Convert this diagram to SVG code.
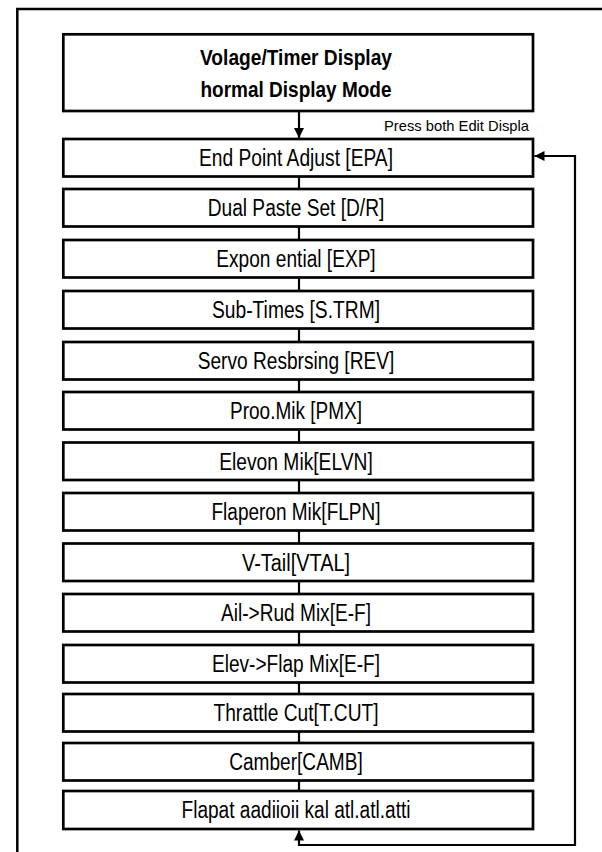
<svg xmlns="http://www.w3.org/2000/svg" width="602" height="852" viewBox="0 0 602 852">
<style>
.frame{fill:none;stroke:#000;stroke-width:2.5}
.box{fill:#fff;stroke:#000;stroke-width:2.7}
.t{font-family:"Liberation Sans",Arial,sans-serif;font-size:23px;fill:#000;text-anchor:middle}
.tb{font-family:"Liberation Sans",Arial,sans-serif;font-size:22.5px;font-weight:bold;fill:#000;text-anchor:middle}
.lbl{font-family:"Liberation Sans",Arial,sans-serif;font-size:14.5px;fill:#000}
.c{fill:none;stroke:#000;stroke-width:2.2}
</style>
<defs>
<marker id="ah" viewBox="0 0 10 10" refX="10" refY="5" markerWidth="10" markerHeight="12" markerUnits="userSpaceOnUse" orient="auto-start-reverse">
<path d="M0,0 L10,5 L0,10 Z" fill="#000"/>
</marker>
</defs>
<rect width="602" height="852" fill="#fff"/>
<path class="frame" d="M17.3,852 V9 H604"/>

<g id="n-top">
<rect class="box" x="63.3" y="34.3" width="469.7" height="76.7"/>
<text class="tb" x="296" y="64.5" textLength="192" lengthAdjust="spacingAndGlyphs">Volage/Timer Display</text>
<text class="tb" x="296" y="97" textLength="191" lengthAdjust="spacingAndGlyphs">hormal Display Mode</text>
</g>
<g id="n-epa"><rect class="box" x="63.3" y="139" width="469.7" height="37.5"/><text class="t" x="296" y="166" textLength="194" lengthAdjust="spacingAndGlyphs">End Point Adjust [EPA]</text></g>
<g id="n-dr"><rect class="box" x="63.3" y="189" width="469.7" height="37.5"/><text class="t" x="296" y="216" textLength="176.6" lengthAdjust="spacingAndGlyphs">Dual Paste Set [D/R]</text></g>
<g id="n-exp"><rect class="box" x="63.3" y="240" width="469.7" height="37.5"/><text class="t" x="296" y="267" textLength="159.4" lengthAdjust="spacingAndGlyphs">Expon ential [EXP]</text></g>
<g id="n-strm"><rect class="box" x="63.3" y="291" width="469.7" height="37.5"/><text class="t" x="296" y="318" textLength="168" lengthAdjust="spacingAndGlyphs">Sub-Times [S.TRM]</text></g>
<g id="n-rev"><rect class="box" x="63.3" y="342" width="469.7" height="37.5"/><text class="t" x="296" y="369" textLength="196.6" lengthAdjust="spacingAndGlyphs">Servo Resbrsing [REV]</text></g>
<g id="n-pmx"><rect class="box" x="63.3" y="392" width="469.7" height="37.5"/><text class="t" x="296" y="419" textLength="132" lengthAdjust="spacingAndGlyphs">Proo.Mik [PMX]</text></g>
<g id="n-elvn"><rect class="box" x="63.3" y="442.5" width="469.7" height="37.5"/><text class="t" x="296" y="469.5" textLength="153.6" lengthAdjust="spacingAndGlyphs">Elevon Mik[ELVN]</text></g>
<g id="n-flpn"><rect class="box" x="63.3" y="493" width="469.7" height="37.5"/><text class="t" x="296" y="520" textLength="169" lengthAdjust="spacingAndGlyphs">Flaperon Mik[FLPN]</text></g>
<g id="n-vtal"><rect class="box" x="63.3" y="543.5" width="469.7" height="37.5"/><text class="t" x="296" y="570.5" textLength="108" lengthAdjust="spacingAndGlyphs">V-Tail[VTAL]</text></g>
<g id="n-ailrud"><rect class="box" x="63.3" y="594" width="469.7" height="37.5"/><text class="t" x="296" y="621" textLength="150" lengthAdjust="spacingAndGlyphs">Ail-&gt;Rud Mix[E-F]</text></g>
<g id="n-elevflap"><rect class="box" x="63.3" y="645" width="469.7" height="37.5"/><text class="t" x="296" y="672" textLength="168" lengthAdjust="spacingAndGlyphs">Elev-&gt;Flap Mix[E-F]</text></g>
<g id="n-tcut"><rect class="box" x="63.3" y="694" width="469.7" height="37.5"/><text class="t" x="296" y="721" textLength="165" lengthAdjust="spacingAndGlyphs">Thrattle Cut[T.CUT]</text></g>
<g id="n-camb"><rect class="box" x="63.3" y="743" width="469.7" height="37.5"/><text class="t" x="296" y="770" textLength="133.6" lengthAdjust="spacingAndGlyphs">Camber[CAMB]</text></g>
<g id="n-flapat"><rect class="box" x="63.3" y="791" width="469.7" height="38"/><text class="t" x="296" y="817.5" textLength="229" lengthAdjust="spacingAndGlyphs">Flapat aadiioii kal atl.atl.atti</text></g>

<g id="connectors">
<path class="c" d="M299,111 V138" marker-end="url(#ah)"/>
<text class="lbl" x="384" y="130.7" textLength="145" lengthAdjust="spacingAndGlyphs">Press both Edit Displa</text>
<path class="c" d="M299,176.5 V189"/>
<path class="c" d="M299,226.5 V240"/>
<path class="c" d="M299,277.5 V291"/>
<path class="c" d="M299,328.5 V342"/>
<path class="c" d="M299,379.5 V392"/>
<path class="c" d="M299,429.5 V442.5"/>
<path class="c" d="M299,480 V493"/>
<path class="c" d="M299,530.5 V543.5"/>
<path class="c" d="M299,581 V594"/>
<path class="c" d="M299,631.5 V645"/>
<path class="c" d="M299,682.5 V694"/>
<path class="c" d="M299,731.5 V743"/>
<path class="c" d="M299,780.5 V791"/>
<path class="c" d="M299,830.5 V845 H575 V156 H534.5" marker-start="url(#ah)" marker-end="url(#ah)"/>
</g>
</svg>
